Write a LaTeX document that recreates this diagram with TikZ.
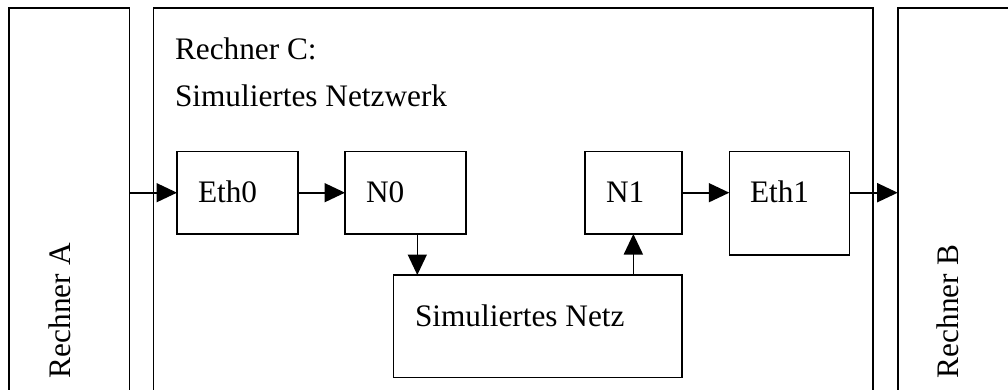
\documentclass[tikz,border=0pt]{standalone}
\usepackage{fontspec}
\setmainfont{Liberation Serif}
\usetikzlibrary{arrows.meta}
\begin{document}
\begin{tikzpicture}[x=1pt,y=-1pt,
  box/.style={draw,line width=1.6pt,inner sep=0pt,outer sep=0pt},
  txt/.style={inner sep=0pt,outer sep=0pt,font=\fontsize{31.3}{37}\selectfont},
  conn/.style={line width=1.6pt,-{Triangle[length=20.5pt,width=19pt]}}]
\useasboundingbox (0,0) rectangle (1008,390);
\clip (0,0) rectangle (1008,390);
% outer computers
\node[box,minimum width=120.5pt,minimum height=412pt] (ra) at (69.25,214) {};
\node[box,minimum width=719.5pt,minimum height=412pt] (rc) at (513.25,214) {};
\node[box,minimum width=140pt,minimum height=412pt] (rb) at (967.7,214) {};
% inner boxes
\node[box,minimum width=120.7pt,minimum height=82.3pt] (eth0) at (237.35,192.85) {};
\node[box,minimum width=120.7pt,minimum height=82.3pt] (n0) at (405.35,192.85) {};
\node[box,minimum width=96.7pt,minimum height=82.3pt] (n1) at (633.35,192.85) {};
\node[box,minimum width=120pt,minimum height=103pt] (eth1) at (789.3,203.2) {};
\node[box,minimum width=288.4pt,minimum height=102.5pt] (sim) at (537.5,326.25) {};
% texts
\node[txt,anchor=base west] (tc1) at (175,60) {Rechner C:};
\node[txt,anchor=base west] (tc2) at (175,106.7) {Simuliertes Netzwerk};
\node[txt,anchor=base west] (teth0) at (198,202.7) {Eth0};
\node[txt,anchor=base west] (tn0) at (366,202.7) {N0};
\node[txt,anchor=base west] (tn1) at (606,202.7) {N1};
\node[txt,anchor=base west] (teth1) at (750,202.7) {Eth1};
\node[txt,anchor=base west] (tsim) at (415,326.7) {Simuliertes Netz};
\node[txt,anchor=base west,rotate=90] (ta) at (70.7,378) {Rechner A};
\node[txt,anchor=base west,rotate=90] (tb) at (958,378) {Rechner B};
% connectors
\coordinate (ya) at (0,192.7);
\draw[conn] (ra.east |- ya) -- (eth0.west |- ya);
\draw[conn] (eth0.east |- ya) -- (n0.west |- ya);
\draw[conn] (n1.east |- ya) -- (eth1.west |- ya);
\draw[conn] (eth1.east |- ya) -- (rb.west |- ya);
\coordinate (xd) at (417.3,0);
\draw[conn] (xd |- n0.south) -- (xd |- sim.north);
\draw[conn] (n1.south |- sim.north) -- (n1.south);
\end{tikzpicture}
\end{document}
